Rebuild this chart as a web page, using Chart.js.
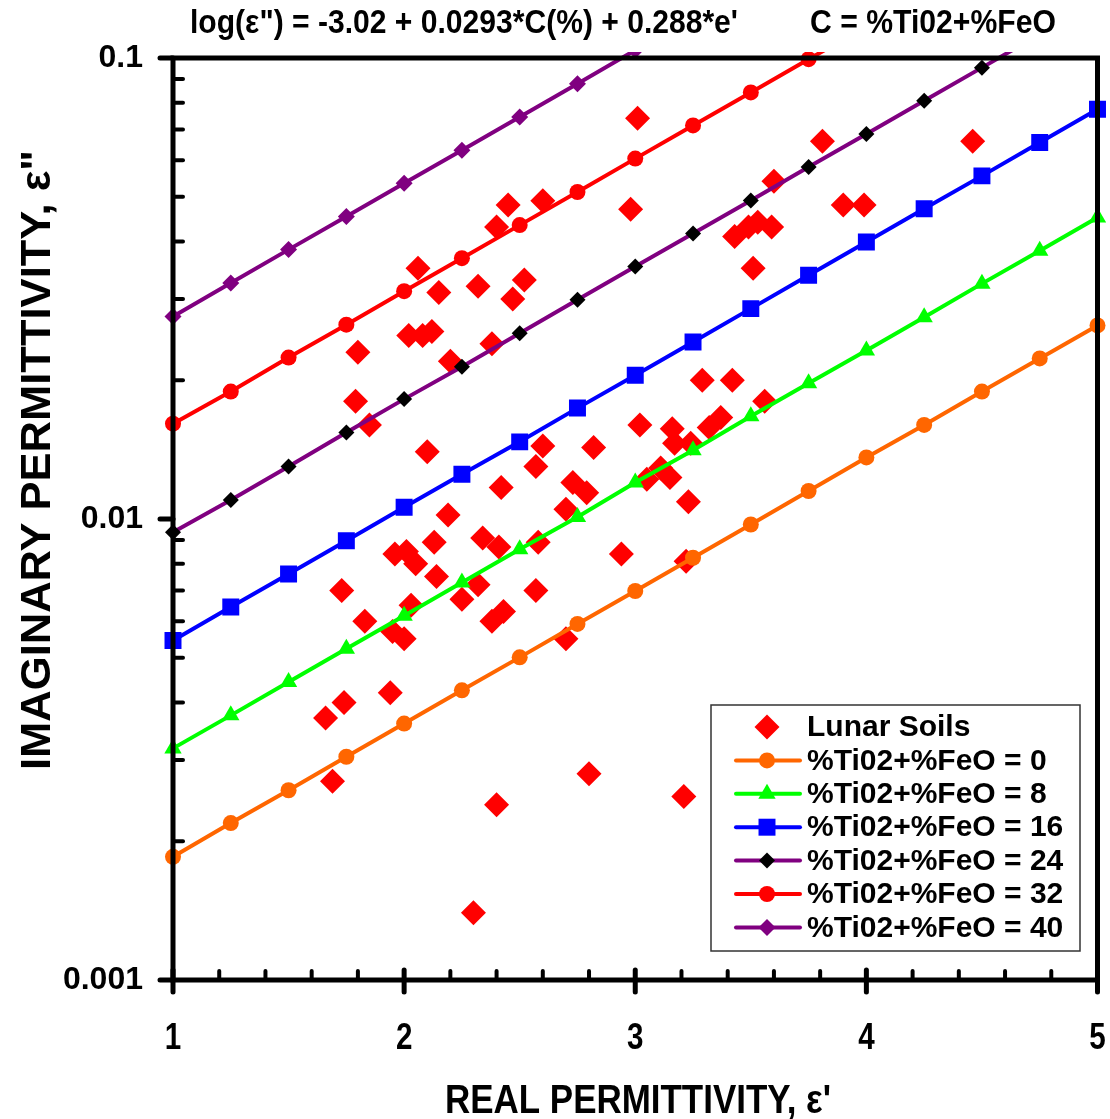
<!DOCTYPE html>
<html>
<head>
<meta charset="utf-8">
<script src="https://cdn.jsdelivr.net/npm/chart.js@4.4.1/dist/chart.umd.min.js"></script>
<style>
  html, body { margin: 0; padding: 0; background: #fff; }
  #wrap { width: 1110px; height: 1119px; }
</style>
</head>
<body>
<div id="wrap"><canvas id="chart" width="1110" height="1119"></canvas></div>
<script>
// ── Dati ────────────────────────────────
const xModel = [1, 1.25, 1.5, 1.75, 2, 2.25, 2.5, 2.75, 3, 3.25, 3.5, 3.75, 4, 4.25, 4.5, 4.75, 5];
const c0  = [0.00185, 0.00219, 0.00258, 0.00305, 0.00360, 0.00425, 0.00501, 0.00592, 0.00698, 0.00824, 0.00973, 0.0115, 0.0136, 0.0160, 0.0189, 0.0223, 0.0263];
const c8  = [0.00318, 0.00375, 0.00443, 0.00523, 0.00617, 0.00728, 0.00860, 0.0101, 0.0120, 0.0141, 0.0167, 0.0197, 0.0232, 0.0274, 0.0324, 0.0382, 0.0451];
const c16 = [0.00545, 0.00644, 0.00760, 0.00897, 0.0106, 0.0125, 0.0147, 0.0174, 0.0205, 0.0242, 0.0286, 0.0338, 0.0399, 0.0471, 0.0555, 0.0656, 0.0774];
const c24 = [0.00936, 0.0110, 0.0130, 0.0154, 0.0182, 0.0214, 0.0253, 0.0299, 0.0353, 0.0416, 0.0491, 0.0580, 0.0684, 0.0808, 0.0953, 0.1125, 0.133];
const c32 = [0.0161, 0.0189, 0.0224, 0.0264, 0.0312, 0.0368, 0.0434, 0.0512, 0.0605, 0.0714, 0.0842, 0.0994, 0.117, 0.139, 0.164, 0.193, 0.228];
const c40 = [0.0275, 0.0325, 0.0384, 0.0453, 0.0535, 0.0631, 0.0745, 0.0879, 0.104, 0.122, 0.145, 0.171, 0.201, 0.238, 0.281, 0.331, 0.391];

const soilX = [3.01, 2.98, 3.60, 3.81, 4.46, 3.90, 3.99, 3.43, 3.49, 3.53,
  3.59, 3.51, 3.29, 3.42, 2.45, 2.60, 2.40, 2.06, 2.15, 2.32,
  2.52, 2.47, 2.02, 2.08, 2.12, 1.80, 2.20, 2.38, 1.79, 1.85,
  2.10, 2.60, 2.82, 2.57, 2.42, 2.73, 2.79, 2.70, 2.19, 2.13,
  2.34, 2.41, 2.58, 1.96, 2.01, 2.05, 2.94, 1.73, 2.14, 2.32,
  2.25, 2.03, 2.57, 1.83, 2.38, 2.43, 1.95, 2.00, 2.70, 1.74,
  1.66, 1.94, 1.69, 2.40, 2.80, 3.21, 2.30, 3.56, 3.02, 3.16,
  3.17, 3.24, 3.32, 3.37, 3.11, 3.15, 3.05, 3.23, 3.22];
const soilY = [0.074, 0.047, 0.054, 0.066, 0.066, 0.048, 0.048, 0.041, 0.043, 0.044,
  0.043, 0.035, 0.020, 0.020, 0.048, 0.049, 0.043, 0.035, 0.031, 0.032,
  0.033, 0.030, 0.025, 0.025, 0.0255, 0.023, 0.022, 0.024, 0.018, 0.016,
  0.014, 0.0144, 0.0143, 0.013, 0.0117, 0.012, 0.0114, 0.0105, 0.0102, 0.0089,
  0.0091, 0.0087, 0.0089, 0.0084, 0.0085, 0.0080, 0.0084, 0.0070, 0.0075, 0.0072,
  0.0067, 0.0065, 0.0070, 0.0060, 0.0060, 0.0063, 0.0057, 0.0055, 0.0055, 0.0040,
  0.0037, 0.0042, 0.0027, 0.0024, 0.0028, 0.0025, 0.0014, 0.018, 0.016, 0.0157,
  0.0146, 0.0146, 0.0158, 0.0166, 0.0129, 0.0123, 0.0122, 0.0109, 0.0081];

const xTicks = [1, 2, 3, 4, 5];
const yTicks = [0.001, 0.01, 0.1];
const seriesLabels = ['%Ti02+%FeO = 0', '%Ti02+%FeO = 8', '%Ti02+%FeO = 16', '%Ti02+%FeO = 24', '%Ti02+%FeO = 32', '%Ti02+%FeO = 40'];
const soilLabel = 'Lunar Soils';
const titleLeft = 'log(ε") = -3.02 + 0.0293*C(%) + 0.288*e\'';
const titleRight = 'C = %Ti02+%FeO';
const xTitle = 'REAL PERMITTIVITY, ε\'';
const yTitle = 'IMAGINARY PERMITTIVITY, ε"';

// ── Stili ───────────────────────────────
const NARROW = '"Liberation Sans Narrow", "Arial Narrow", "Liberation Sans", Arial, sans-serif';
const SANS = '"Liberation Sans", Arial, sans-serif';

const lineStyles = [
  { color: '#FF6600', point: '#FF6600', style: 'circle',   r: 8 },
  { color: '#00FF00', point: '#00FF00', style: 'triangle', r: 10 },
  { color: '#0000FF', point: '#0000FF', style: 'rect',     r: 12 },
  { color: '#800080', point: '#000000', style: 'rectRot',  r: 8 },
  { color: '#FF0000', point: '#FF0000', style: 'circle',   r: 8 },
  { color: '#800080', point: '#800080', style: 'rectRot',  r: 8.5 }
];
const lineSeries = [c0, c8, c16, c24, c32, c40];

const datasets = lineSeries.map((vals, i) => ({
  type: 'line',
  label: seriesLabels[i],
  data: xModel.map((x, k) => ({ x, y: vals[k] })),
  borderColor: lineStyles[i].color,
  borderWidth: 4,
  pointStyle: lineStyles[i].style,
  pointRadius: lineStyles[i].r,
  pointBackgroundColor: lineStyles[i].point,
  pointBorderColor: lineStyles[i].point,
  pointBorderWidth: 0,
  tension: 0,
  fill: false,
  clip: { left: 14, right: 14, top: 6, bottom: 0 },
  order: i
}));

datasets.push({
  type: 'scatter',
  label: soilLabel,
  data: soilX.map((x, k) => ({ x, y: soilY[k] })),
  pointStyle: 'rectRot',
  pointRadius: 12.5,
  backgroundColor: '#FF0000',
  borderColor: '#FF0000',
  borderWidth: 0,
  order: 10
});

// Disegna un marker come quelli di Chart.js (usato nella legenda)
function marker(ctx, style, x, y, r, color) {
  ctx.save();
  ctx.fillStyle = color;
  ctx.beginPath();
  if (style === 'circle') {
    ctx.arc(x, y, r, 0, Math.PI * 2);
  } else if (style === 'rect') {
    const s = r * Math.SQRT1_2;
    ctx.rect(x - s, y - s, 2 * s, 2 * s);
  } else if (style === 'rectRot') {
    ctx.moveTo(x, y - r); ctx.lineTo(x + r, y); ctx.lineTo(x, y + r); ctx.lineTo(x - r, y);
    ctx.closePath();
  } else if (style === 'triangle') {
    ctx.moveTo(x, y - r);
    ctx.lineTo(x + r * 0.866, y + r * 0.5);
    ctx.lineTo(x - r * 0.866, y + r * 0.5);
    ctx.closePath();
  }
  ctx.fill();
  ctx.restore();
}

// Testo adattato alla larghezza voluta
function fitText(ctx, text, x, y, width, font) {
  ctx.font = font;
  const w = ctx.measureText(text).width;
  ctx.save();
  ctx.translate(x, y);
  ctx.scale(width / w, 1);
  ctx.fillText(text, 0, 0);
  ctx.restore();
}

const decor = {
  id: 'decor',
  afterDraw(chart) {
    const { ctx, chartArea: a, scales: { x, y } } = chart;
    ctx.save();
    ctx.strokeStyle = '#000';
    ctx.lineCap = 'round';

    // tacche minori asse y (verso l'interno)
    ctx.lineWidth = 4;
    [0.001, 0.01].forEach(dec => {
      for (let k = 2; k <= 9; k++) {
        const py = y.getPixelForValue(dec * k);
        ctx.beginPath(); ctx.moveTo(a.left, py); ctx.lineTo(a.left + 10, py); ctx.stroke();
      }
    });
    // tacche minori asse x
    for (let v = 1; v < 5; v += 1) {
      for (let k = 1; k <= 4; k++) {
        const px = x.getPixelForValue(v + k * 0.2);
        ctx.beginPath(); ctx.moveTo(px, a.bottom - 9); ctx.lineTo(px, a.bottom); ctx.stroke();
      }
    }
    // tacche maggiori
    ctx.lineWidth = 5;
    yTicks.forEach(v => {
      const py = y.getPixelForValue(v);
      ctx.beginPath(); ctx.moveTo(a.left - 13, py); ctx.lineTo(a.left, py); ctx.stroke();
    });
    xTicks.forEach(v => {
      const px = x.getPixelForValue(v);
      ctx.beginPath(); ctx.moveTo(px, a.bottom - 10); ctx.lineTo(px, a.bottom + 12); ctx.stroke();
    });
    // cornice
    ctx.lineCap = 'butt';
    ctx.lineWidth = 5;
    ctx.strokeRect(a.left, a.top, a.right - a.left, a.bottom - a.top);

    // etichette asse x (strette, come Arial Narrow)
    ctx.fillStyle = '#000';
    ctx.textBaseline = 'alphabetic';
    ctx.textAlign = 'center';
    ctx.font = 'bold 37px ' + SANS;
    xTicks.forEach(v => {
      ctx.save();
      ctx.translate(x.getPixelForValue(v), 1049);
      ctx.scale(0.8, 1);
      ctx.fillText(String(v), 0, 0);
      ctx.restore();
    });

    // titoli
    ctx.textAlign = 'left';
    fitText(ctx, titleLeft, 190, 33, 548, 'bold 33px ' + NARROW);
    fitText(ctx, titleRight, 810, 33, 246, 'bold 33px ' + NARROW);
    fitText(ctx, xTitle, 445, 1113, 386, 'bold 40px ' + NARROW);
    ctx.save();
    ctx.translate(50, 770);
    ctx.rotate(-Math.PI / 2);
    fitText(ctx, yTitle, 0, 0, 620, 'bold 42px ' + NARROW);
    ctx.restore();

    // legenda
    const lx = 711, ly = 705, lw = 369, lh = 246;
    ctx.fillStyle = '#fff';
    ctx.fillRect(lx, ly, lw, lh);
    ctx.strokeStyle = '#333';
    ctx.lineWidth = 1.5;
    ctx.strokeRect(lx, ly, lw, lh);
    const rowH = 33.4;
    const y0 = 727;
    ctx.textBaseline = 'middle';
    ctx.fillStyle = '#000';
    ctx.font = 'bold 30px ' + SANS;
    marker(ctx, 'rectRot', 767, y0, 12.5, '#FF0000');
    ctx.fillStyle = '#000';
    ctx.fillText(soilLabel, 807, y0 + 1);
    lineStyles.forEach((s, i) => {
      const ry = y0 + rowH * (i + 1);
      ctx.strokeStyle = s.color;
      ctx.lineWidth = 4;
      ctx.lineCap = 'round';
      ctx.beginPath(); ctx.moveTo(736, ry); ctx.lineTo(800, ry); ctx.stroke();
      marker(ctx, s.style, 767, ry, s.r, s.point);
      ctx.fillStyle = '#000';
      ctx.fillText(seriesLabels[i], 807, ry + 1);
    });
    ctx.restore();
  }
};

new Chart(document.getElementById('chart'), {
  data: { datasets },
  options: {
    responsive: false,
    devicePixelRatio: 1,
    animation: false,
    layout: { padding: { left: 0, right: 10, top: 58, bottom: 0 } },
    plugins: { legend: { display: false }, tooltip: { enabled: false }, title: { display: false } },
    scales: {
      x: {
        type: 'linear',
        min: 1, max: 5,
        afterBuildTicks: s => { s.ticks = xTicks.map(v => ({ value: v })); },
        afterFit: s => { s.height = 139; s.paddingLeft = 0; s.paddingRight = 0; },
        grid: { display: false },
        border: { display: false },
        ticks: { display: false }
      },
      y: {
        type: 'logarithmic',
        min: 0.001, max: 0.1,
        afterBuildTicks: s => { s.ticks = yTicks.map(v => ({ value: v })); },
        afterFit: s => { s.width = 173; s.paddingTop = 0; s.paddingBottom = 0; },
        grid: { display: false },
        border: { display: false },
        ticks: { color: '#000', padding: 22, font: { family: SANS, size: 32, weight: 'bold' }, callback: v => String(v) }
      }
    }
  },
  plugins: [decor]
});
</script>
</body>
</html>
